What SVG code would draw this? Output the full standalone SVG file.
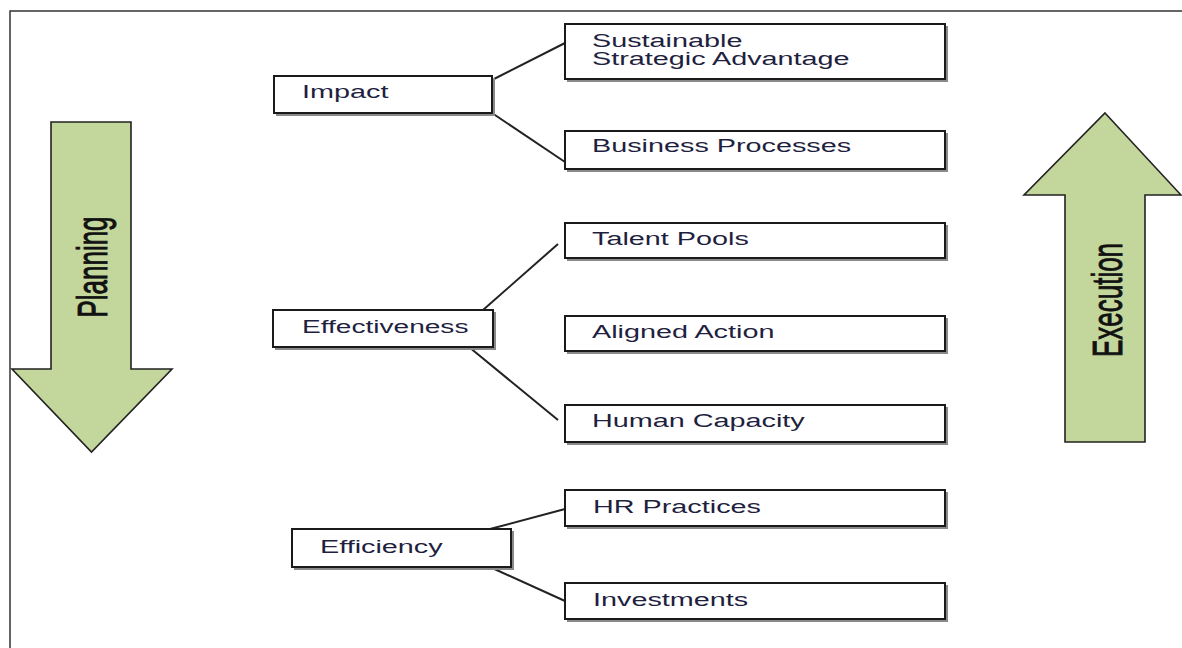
<svg xmlns="http://www.w3.org/2000/svg" width="1182" height="648" viewBox="0 0 1182 648">
<style>
.frame{fill:none;stroke:#333;stroke-width:1.5}
.box{fill:#fff;stroke:#1a1a1a;stroke-width:2}
.shadow{fill:none;stroke:#8a8a8a;stroke-width:2}
.lbl{font-family:"Liberation Sans",Arial,sans-serif;font-size:18px;fill:#1f1f3f}
.arrow{fill:#c3d69b;stroke:#222;stroke-width:1.6}
.atxt{font-family:"Liberation Sans",Arial,sans-serif;font-size:26px;fill:#111;stroke:#111;stroke-width:0.6;text-anchor:middle}
.conn{stroke:#222;stroke-width:2;fill:none}
</style>
<rect width="1182" height="648" fill="#fff"/>
<path class="frame" d="M10,648 V11 H1182"/>

<g id="planning">
<polygon class="arrow" points="51,122 131,122 131,369 172,369 91.5,452 12,369 51,369"/>
<text class="atxt" transform="translate(107,267) scale(1.6,1) rotate(-90)">Planning</text>
</g>
<g id="execution">
<polygon class="arrow" points="1105,113 1181,195 1145,195 1145,442 1065,442 1065,195 1024,195"/>
<text class="atxt" transform="translate(1122,300) scale(1.6,1) rotate(-90)">Execution</text>
</g>

<g id="connectors">
<line class="conn" x1="492" y1="80" x2="565" y2="43"/>
<line class="conn" x1="492" y1="113" x2="565" y2="162"/>
<line class="conn" x1="483" y1="310" x2="558" y2="244"/>
<line class="conn" x1="469" y1="347" x2="558" y2="420"/>
<line class="conn" x1="490" y1="529" x2="565" y2="509"/>
<line class="conn" x1="490" y1="567" x2="565" y2="601"/>
</g>

<g id="impact">
<path class="shadow" d="M494,78 V115 H276"/>
<rect class="box" x="274" y="76" width="218" height="37"/>
<text class="lbl" transform="translate(302,98) scale(1.6,1)">Impact</text>
</g>
<g id="effectiveness">
<path class="shadow" d="M495,312 V349 H275"/>
<rect class="box" x="273" y="310" width="220" height="37"/>
<text class="lbl" transform="translate(302,333) scale(1.56,1)">Effectiveness</text>
</g>
<g id="efficiency">
<path class="shadow" d="M513,531 V569 H294"/>
<rect class="box" x="292" y="529" width="219" height="38"/>
<text class="lbl" transform="translate(320,553) scale(1.6,1)">Efficiency</text>
</g>

<g id="sustainable">
<path class="shadow" d="M947,26 V81 H567"/>
<rect class="box" x="565" y="24" width="380" height="55"/>
<text class="lbl" transform="translate(592,47) scale(1.6,1)">Sustainable</text>
<text class="lbl" transform="translate(592,65) scale(1.6,1)">Strategic Advantage</text>
</g>
<g id="business">
<path class="shadow" d="M947,133 V171 H567"/>
<rect class="box" x="565" y="131" width="380" height="38"/>
<text class="lbl" transform="translate(592,152) scale(1.6,1)">Business Processes</text>
</g>
<g id="talent">
<path class="shadow" d="M947,225 V260 H567"/>
<rect class="box" x="565" y="223" width="380" height="35"/>
<text class="lbl" transform="translate(592,245) scale(1.6,1)">Talent Pools</text>
</g>
<g id="aligned">
<path class="shadow" d="M947,318 V353 H567"/>
<rect class="box" x="565" y="316" width="380" height="35"/>
<text class="lbl" transform="translate(592,338) scale(1.6,1)">Aligned Action</text>
</g>
<g id="human">
<path class="shadow" d="M947,407 V444 H567"/>
<rect class="box" x="565" y="405" width="380" height="37"/>
<text class="lbl" transform="translate(592,427) scale(1.6,1)">Human Capacity</text>
</g>
<g id="hr">
<path class="shadow" d="M947,492 V528 H567"/>
<rect class="box" x="565" y="490" width="380" height="36"/>
<text class="lbl" transform="translate(593,513) scale(1.6,1)">HR Practices</text>
</g>
<g id="investments">
<path class="shadow" d="M947,585 V621 H567"/>
<rect class="box" x="565" y="583" width="380" height="36"/>
<text class="lbl" transform="translate(593,606) scale(1.6,1)">Investments</text>
</g>
</svg>
